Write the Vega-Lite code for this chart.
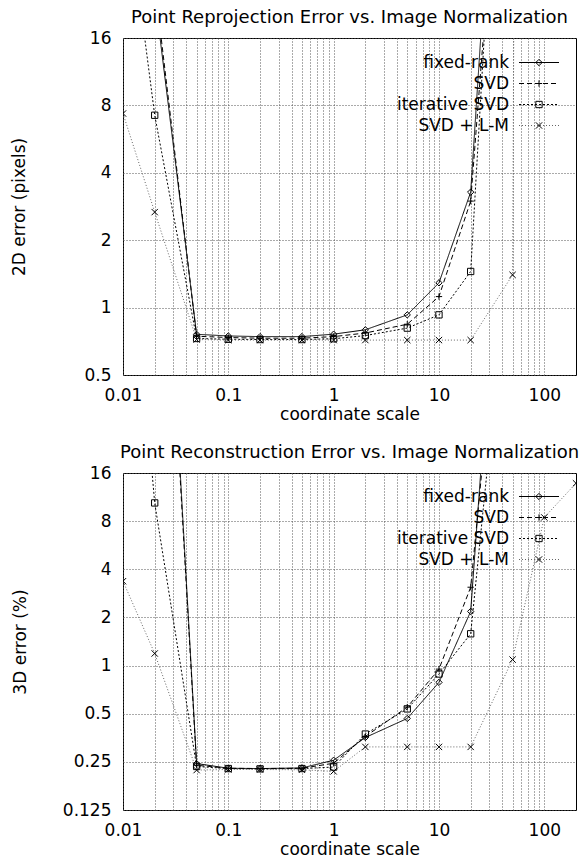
{
  "$schema": "https://vega.github.io/schema/vega-lite/v6.json",
  "padding": {"left": 10, "top": 8, "right": 5, "bottom": 0},
  "datasets": {
    "reproj": [
      {"series": "fixed-rank", "scale": 0.02, "error": 25},
      {"series": "fixed-rank", "scale": 0.05, "error": 0.76},
      {"series": "fixed-rank", "scale": 0.1, "error": 0.747},
      {"series": "fixed-rank", "scale": 0.2, "error": 0.742},
      {"series": "fixed-rank", "scale": 0.5, "error": 0.742},
      {"series": "fixed-rank", "scale": 1, "error": 0.761},
      {"series": "fixed-rank", "scale": 2, "error": 0.796},
      {"series": "fixed-rank", "scale": 5, "error": 0.928},
      {"series": "fixed-rank", "scale": 10, "error": 1.29},
      {"series": "fixed-rank", "scale": 20, "error": 3.28},
      {"series": "fixed-rank", "scale": 50, "error": 2500},
      {"series": "SVD", "scale": 0.02, "error": 28},
      {"series": "SVD", "scale": 0.05, "error": 0.745},
      {"series": "SVD", "scale": 0.1, "error": 0.735},
      {"series": "SVD", "scale": 0.2, "error": 0.73},
      {"series": "SVD", "scale": 0.5, "error": 0.73},
      {"series": "SVD", "scale": 1, "error": 0.742},
      {"series": "SVD", "scale": 2, "error": 0.77},
      {"series": "SVD", "scale": 5, "error": 0.843},
      {"series": "SVD", "scale": 10, "error": 1.12},
      {"series": "SVD", "scale": 20, "error": 2.99},
      {"series": "SVD", "scale": 50, "error": 800},
      {"series": "iterative SVD", "scale": 0.01, "error": 90},
      {"series": "iterative SVD", "scale": 0.02, "error": 7.23},
      {"series": "iterative SVD", "scale": 0.05, "error": 0.728},
      {"series": "iterative SVD", "scale": 0.1, "error": 0.722},
      {"series": "iterative SVD", "scale": 0.2, "error": 0.72},
      {"series": "iterative SVD", "scale": 0.5, "error": 0.72},
      {"series": "iterative SVD", "scale": 1, "error": 0.726},
      {"series": "iterative SVD", "scale": 2, "error": 0.75},
      {"series": "iterative SVD", "scale": 5, "error": 0.81},
      {"series": "iterative SVD", "scale": 10, "error": 0.928},
      {"series": "iterative SVD", "scale": 20, "error": 1.45},
      {"series": "iterative SVD", "scale": 50, "error": 2500},
      {"series": "SVD + L-M", "scale": 0.01, "error": 7.36},
      {"series": "SVD + L-M", "scale": 0.02, "error": 2.67},
      {"series": "SVD + L-M", "scale": 0.05, "error": 0.72},
      {"series": "SVD + L-M", "scale": 0.1, "error": 0.716},
      {"series": "SVD + L-M", "scale": 0.2, "error": 0.716},
      {"series": "SVD + L-M", "scale": 0.5, "error": 0.716},
      {"series": "SVD + L-M", "scale": 1, "error": 0.716},
      {"series": "SVD + L-M", "scale": 2, "error": 0.716},
      {"series": "SVD + L-M", "scale": 5, "error": 0.716},
      {"series": "SVD + L-M", "scale": 10, "error": 0.716},
      {"series": "SVD + L-M", "scale": 20, "error": 0.716},
      {"series": "SVD + L-M", "scale": 50, "error": 1.4},
      {"series": "SVD + L-M", "scale": 100, "error": 1e30}
    ],
    "recon": [
      {"series": "fixed-rank", "scale": 0.02, "error": 11000},
      {"series": "fixed-rank", "scale": 0.05, "error": 0.244},
      {"series": "fixed-rank", "scale": 0.1, "error": 0.228},
      {"series": "fixed-rank", "scale": 0.2, "error": 0.227},
      {"series": "fixed-rank", "scale": 0.5, "error": 0.229},
      {"series": "fixed-rank", "scale": 1, "error": 0.256},
      {"series": "fixed-rank", "scale": 2, "error": 0.355},
      {"series": "fixed-rank", "scale": 5, "error": 0.467},
      {"series": "fixed-rank", "scale": 10, "error": 0.785},
      {"series": "fixed-rank", "scale": 20, "error": 2.18},
      {"series": "fixed-rank", "scale": 50, "error": 9400},
      {"series": "SVD", "scale": 0.02, "error": 9000},
      {"series": "SVD", "scale": 0.05, "error": 0.238},
      {"series": "SVD", "scale": 0.1, "error": 0.228},
      {"series": "SVD", "scale": 0.2, "error": 0.227},
      {"series": "SVD", "scale": 0.5, "error": 0.228},
      {"series": "SVD", "scale": 1, "error": 0.245},
      {"series": "SVD", "scale": 2, "error": 0.36},
      {"series": "SVD", "scale": 5, "error": 0.55},
      {"series": "SVD", "scale": 10, "error": 0.95},
      {"series": "SVD", "scale": 20, "error": 3.09},
      {"series": "SVD", "scale": 50, "error": 1660},
      {"series": "iterative SVD", "scale": 0.01, "error": 1900},
      {"series": "iterative SVD", "scale": 0.02, "error": 10.4},
      {"series": "iterative SVD", "scale": 0.05, "error": 0.234},
      {"series": "iterative SVD", "scale": 0.1, "error": 0.227},
      {"series": "iterative SVD", "scale": 0.2, "error": 0.226},
      {"series": "iterative SVD", "scale": 0.5, "error": 0.227},
      {"series": "iterative SVD", "scale": 1, "error": 0.232},
      {"series": "iterative SVD", "scale": 2, "error": 0.373},
      {"series": "iterative SVD", "scale": 5, "error": 0.536},
      {"series": "iterative SVD", "scale": 10, "error": 0.886},
      {"series": "iterative SVD", "scale": 20, "error": 1.58},
      {"series": "iterative SVD", "scale": 50, "error": 630},
      {"series": "SVD + L-M", "scale": 0.01, "error": 3.37},
      {"series": "SVD + L-M", "scale": 0.02, "error": 1.19},
      {"series": "SVD + L-M", "scale": 0.05, "error": 0.222},
      {"series": "SVD + L-M", "scale": 0.1, "error": 0.224},
      {"series": "SVD + L-M", "scale": 0.2, "error": 0.224},
      {"series": "SVD + L-M", "scale": 0.5, "error": 0.223},
      {"series": "SVD + L-M", "scale": 1, "error": 0.218},
      {"series": "SVD + L-M", "scale": 2, "error": 0.31},
      {"series": "SVD + L-M", "scale": 5, "error": 0.31},
      {"series": "SVD + L-M", "scale": 10, "error": 0.31},
      {"series": "SVD + L-M", "scale": 20, "error": 0.31},
      {"series": "SVD + L-M", "scale": 50, "error": 1.09},
      {"series": "SVD + L-M", "scale": 100, "error": 8.44},
      {"series": "SVD + L-M", "scale": 200, "error": 13.8}
    ]
  },
  "config": {
    "font": "DejaVu Sans",
    "view": {"stroke": "black", "strokeWidth": 1},
    "axis": {
      "labelFont": "DejaVu Sans", "labelFontSize": 17, "labelColor": "black",
      "titleFont": "DejaVu Sans", "titleFontSize": 17, "titleFontWeight": "normal", "titleColor": "black",
      "domain": false, "ticks": false, "tickSize": 0,
      "grid": true, "gridColor": "#555", "gridDash": [1, 2], "gridOpacity": 1, "gridWidth": 1,
      "labelFlush": false, "labelOverlap": false, "labelPadding": 12
    },
    "title": {"font": "DejaVu Sans", "fontSize": 18, "fontWeight": "normal", "color": "black", "offset": 2, "anchor": "middle"},
    "legend": {
      "title": null, "padding": 0, "labelFont": "DejaVu Sans", "labelFontSize": 17, "labelColor": "black",
      "labelAlign": "right", "labelOffset": -38.5, "rowPadding": 3, "symbolStrokeWidth": 1
    },
    "concat": {"spacing": 20}
  },
  "resolve": {
    "scale": {"color": "independent", "strokeDash": "independent", "shape": "independent"},
    "legend": {"color": "independent", "strokeDash": "independent", "shape": "independent"}
  },
  "vconcat": [
    {
      "title": "Point Reprojection Error vs. Image Normalization",
      "width": 453, "height": 337,
      "data": {"name": "reproj"},
      "transform": [{"calculate": "datum.series", "as": "marker"}],
      "encoding": {
        "x": {"field": "scale", "type": "quantitative",
          "scale": {"type": "log", "domain": [0.01, 200], "nice": false},
          "axis": {"title": "coordinate scale", "titlePadding": 3,
            "values": [0.01,0.02,0.03,0.04,0.05,0.06,0.07,0.08,0.09,0.1,0.2,0.3,0.4,0.5,0.6,0.7,0.8,0.9,1,2,3,4,5,6,7,8,9,10,20,30,40,50,60,70,80,90,100],
            "labelExpr": "indexof([0.01,0.1,1,10,100], datum.value) >= 0 ? format(datum.value, '~g') : ''"}},
        "y": {"field": "error", "type": "quantitative",
          "scale": {"type": "log", "base": 2, "domain": [0.5, 16], "nice": false},
          "axis": {"title": "2D error (pixels)", "values": [0.5, 1, 2, 4, 8, 16], "format": "~g", "titlePadding": 55}}
      },
      "layer": [
        {"mark": {"type": "line", "clip": true, "strokeWidth": 1},
          "encoding": {
            "color": {"field": "series", "type": "nominal",
              "scale": {"domain": ["fixed-rank", "SVD", "iterative SVD", "SVD + L-M"], "range": ["black", "black", "black", "#666666"]},
              "legend": {"orient": "none", "legendX": 407.5, "legendY": 16, "symbolType": "M-4,0H4", "symbolSize": 100}},
            "strokeDash": {"field": "series", "type": "nominal",
              "scale": {"domain": ["fixed-rank", "SVD", "iterative SVD", "SVD + L-M"], "range": [[1, 0], [5, 3], [2, 2], [1, 2]]},
              "legend": {"orient": "none", "legendX": 407.5, "legendY": 16, "symbolType": "M-4,0H4", "symbolSize": 100}}
          }},
        {"mark": {"type": "point", "clip": true, "filled": false, "color": "black", "size": 40, "strokeWidth": 1, "opacity": 1},
          "encoding": {
            "shape": {"field": "marker", "type": "nominal", "sort": ["fixed-rank", "SVD", "iterative SVD", "SVD + L-M"],
              "scale": {"range": ["diamond", "M-1,0H1M0,-1V1", "square", "M-1,-1L1,1M-1,1L1,-1"]},
              "legend": {"orient": "none", "legendX": 407.5, "legendY": 16, "symbolSize": 40, "labelOpacity": 0}}
          }}
      ]
    },
    {
      "title": "Point Reconstruction Error vs. Image Normalization",
      "width": 453, "height": 337,
      "data": {"name": "recon"},
      "transform": [{"calculate": "datum.series", "as": "marker"}],
      "encoding": {
        "x": {"field": "scale", "type": "quantitative",
          "scale": {"type": "log", "domain": [0.01, 200], "nice": false},
          "axis": {"title": "coordinate scale", "titlePadding": 3,
            "values": [0.01,0.02,0.03,0.04,0.05,0.06,0.07,0.08,0.09,0.1,0.2,0.3,0.4,0.5,0.6,0.7,0.8,0.9,1,2,3,4,5,6,7,8,9,10,20,30,40,50,60,70,80,90,100],
            "labelExpr": "indexof([0.01,0.1,1,10,100], datum.value) >= 0 ? format(datum.value, '~g') : ''"}},
        "y": {"field": "error", "type": "quantitative",
          "scale": {"type": "log", "base": 2, "domain": [0.125, 16], "nice": false},
          "axis": {"title": "3D error (%)", "values": [0.125, 0.25, 0.5, 1, 2, 4, 8, 16], "format": "~g", "titlePadding": 33}}
      },
      "layer": [
        {"mark": {"type": "line", "clip": true, "strokeWidth": 1},
          "encoding": {
            "color": {"field": "series", "type": "nominal",
              "scale": {"domain": ["fixed-rank", "SVD", "iterative SVD", "SVD + L-M"], "range": ["black", "black", "black", "#666666"]},
              "legend": {"orient": "none", "legendX": 407.5, "legendY": 15, "symbolType": "M-4,0H4", "symbolSize": 100}},
            "strokeDash": {"field": "series", "type": "nominal",
              "scale": {"domain": ["fixed-rank", "SVD", "iterative SVD", "SVD + L-M"], "range": [[1, 0], [5, 3], [2, 2], [1, 2]]},
              "legend": {"orient": "none", "legendX": 407.5, "legendY": 15, "symbolType": "M-4,0H4", "symbolSize": 100}}
          }},
        {"mark": {"type": "point", "clip": true, "filled": false, "color": "black", "size": 40, "strokeWidth": 1, "opacity": 1},
          "encoding": {
            "shape": {"field": "marker", "type": "nominal", "sort": ["fixed-rank", "SVD", "iterative SVD", "SVD + L-M"],
              "scale": {"range": ["diamond", "M-1,0H1M0,-1V1", "square", "M-1,-1L1,1M-1,1L1,-1"]},
              "legend": {"orient": "none", "legendX": 407.5, "legendY": 15, "symbolSize": 40, "labelOpacity": 0}}
          }}
      ]
    }
  ]
}
